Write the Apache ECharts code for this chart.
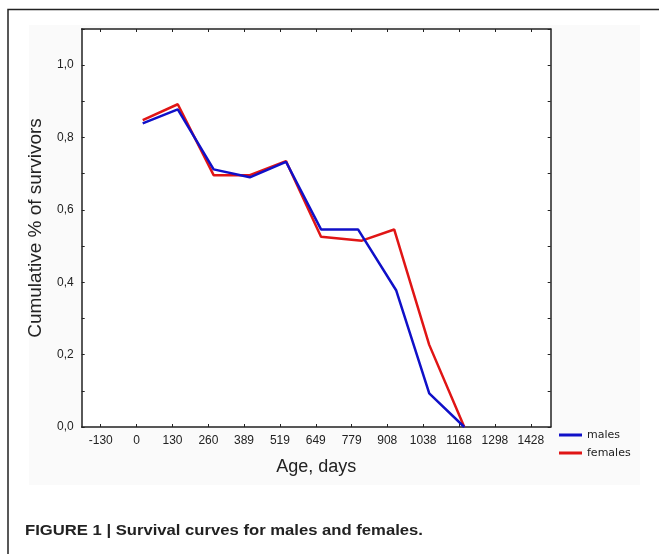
<!DOCTYPE html>
<html>
<head>
<meta charset="utf-8">
<script src="https://cdn.jsdelivr.net/npm/echarts@6/dist/echarts.min.js"></script>
<style>
html,body{margin:0;padding:0;background:#fff;}
#chart{width:659px;height:554px;}
</style>
</head>
<body>
<div id="chart"></div>
<script>
// ---- data ----
var xTickValues = [-130, 0, 130, 260, 389, 519, 649, 779, 908, 1038, 1168, 1298, 1428];
var yLabelValues = [0, 0.2, 0.4, 0.6, 0.8, 1.0];
var malesAge = [22, 149, 279, 410, 541, 668, 802, 940, 1060, 1187];
var malesSurv = [0.839, 0.878, 0.712, 0.690, 0.733, 0.546, 0.546, 0.378, 0.093, 0.0];
var femalesAge = [22, 149, 279, 410, 541, 668, 816, 933, 1060, 1187];
var femalesSurv = [0.848, 0.892, 0.696, 0.696, 0.735, 0.526, 0.515, 0.546, 0.227, 0.0];
var seriesNames = ['males', 'females'];
var captionText = 'FIGURE 1 | Survival curves for males and females.';

function pairs(xs, ys) { return xs.map(function (x, i) { return [x, ys[i]]; }); }

var chart = echarts.init(document.getElementById('chart'), null, {renderer: 'canvas'});
var axisFont = 'Liberation Sans, Arial, sans-serif';
var xCommon = {
  type: 'value', min: -199, max: 1500,
  axisLine: {show: true, onZero: false, lineStyle: {color: '#222', width: 1.5}},
  splitLine: {show: false}
};
var yCommon = {
  type: 'value', min: 0, max: 1.1, interval: 0.1,
  axisLine: {show: true, onZero: false, lineStyle: {color: '#222', width: 1.5}},
  axisTick: {show: true, inside: true, length: 3, lineStyle: {color: '#222'}},
  splitLine: {show: false}
};
chart.setOption({
  animation: false,
  backgroundColor: '#fff',
  graphic: [
    {type: 'rect', shape: {x: 29, y: 25, width: 611, height: 460}, style: {fill: '#fafafa'}, z: -10},
    {type: 'polyline', shape: {points: [[8, 554], [8, 9.5], [659, 9.5]]}, style: {stroke: '#222', lineWidth: 1.5, fill: null}},
    {type: 'text', x: 25, y: 523, scaleX: 1.11, style: {text: captionText, font: 'bold 15px "Liberation Sans", Arial, sans-serif', fill: '#222'}}
  ],
  grid: {left: 81.7, right: 108.3, top: 29, bottom: 127, show: true, backgroundColor: '#fff', borderWidth: 0},
  legend: {
    data: seriesNames, orient: 'vertical', left: 559, top: 428, itemWidth: 23, itemHeight: 3, itemGap: 4,
    icon: 'rect',
    textStyle: {fontFamily: 'DejaVu Sans, sans-serif', fontSize: 11, color: '#222', lineHeight: 14, padding: [0, 0, 0, 0]},
    padding: 0
  },
  xAxis: [
    Object.assign({}, xCommon, {
      position: 'bottom',
      name: 'Age, days', nameLocation: 'middle', nameGap: 31,
      nameTextStyle: {fontFamily: axisFont, fontSize: 18, color: '#222'},
      axisTick: {show: true, inside: true, length: 3, customValues: xTickValues, lineStyle: {color: '#222'}},
      axisLabel: {show: true, customValues: xTickValues, margin: 8, fontFamily: axisFont, fontSize: 12, color: '#222',
        formatter: function (v) { return String(Math.round(v)); }}
    }),
    Object.assign({}, xCommon, {
      position: 'top',
      axisTick: {show: true, inside: true, length: 3, customValues: xTickValues, lineStyle: {color: '#222'}},
      axisLabel: {show: false}
    })
  ],
  yAxis: [
    Object.assign({}, yCommon, {
      position: 'left',
      name: 'Cumulative % of survivors', nameLocation: 'middle', nameGap: 36, nameRotate: 90,
      nameTextStyle: {fontFamily: axisFont, fontSize: 19, color: '#222'},
      axisLabel: {show: true, customValues: yLabelValues, margin: 8, fontFamily: axisFont, fontSize: 12, color: '#222',
        formatter: function (v) { return v.toFixed(1).replace('.', ','); }}
    }),
    Object.assign({}, yCommon, {
      position: 'right',
      axisLabel: {show: false}
    })
  ],
  series: [
    {name: seriesNames[0], type: 'line', data: pairs(malesAge, malesSurv), showSymbol: false, symbol: 'none',
      lineStyle: {color: '#1010c8', width: 2.5}, itemStyle: {color: '#1010c8'}, z: 3},
    {name: seriesNames[1], type: 'line', data: pairs(femalesAge, femalesSurv), showSymbol: false, symbol: 'none',
      lineStyle: {color: '#e01515', width: 2.5}, itemStyle: {color: '#e01515'}, z: 2}
  ]
});
</script>
</body>
</html>
